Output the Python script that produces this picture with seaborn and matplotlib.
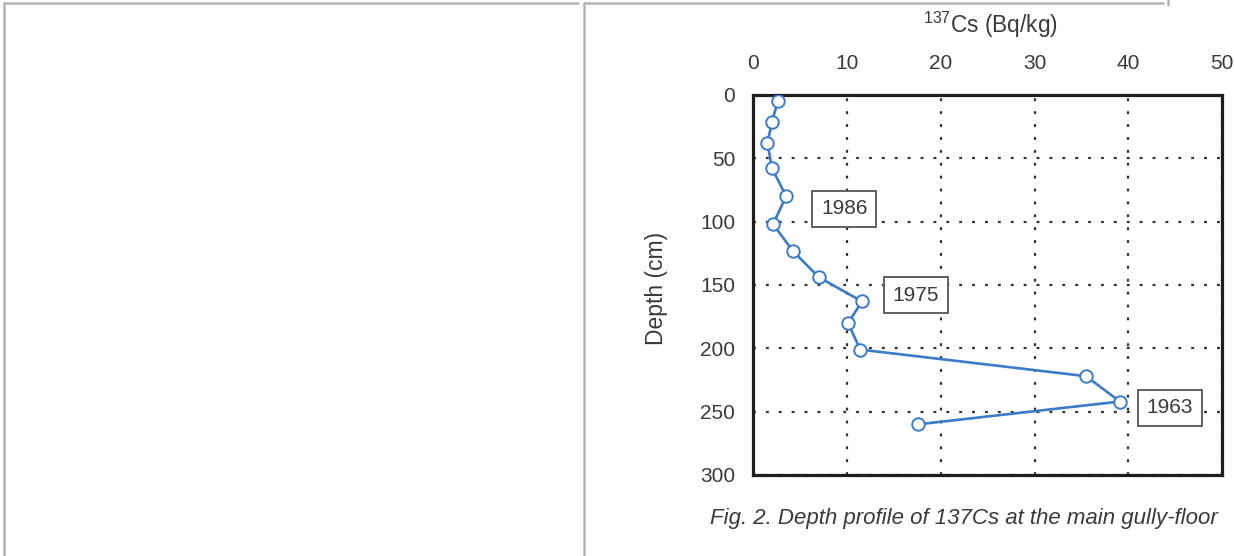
import numpy as np
import pandas as pd
import seaborn as sns
import matplotlib.pyplot as plt
from matplotlib.lines import Line2D

# 137Cs activity
cs_activity = [2.6, 2.0, 1.5, 2.0, 3.5, 2.1, 4.2, 7.0, 11.6, 10.1, 11.4, 35.5, 39.1, 17.6]
depth_cm = [5, 21, 38, 58, 80, 102, 123, 144, 163, 180, 201, 222, 242, 260]

# dating markers: (label, x, depth)
year_labels = ['1986', '1975', '1963']
year_x = [9.7, 17.3, 44.4]
year_depth = [90, 158, 247]

x_ticks = [0, 10, 20, 30, 40, 50]
y_ticks = [0, 50, 100, 150, 200, 250, 300]

sns.set_theme(style="white")
plt.rcParams['font.family'] = ['Liberation Sans', 'DejaVu Sans']

df = pd.DataFrame({'cs': cs_activity, 'depth': depth_cm})

fig = plt.figure(figsize=(12.34, 5.56), dpi=100)
ax = fig.add_axes([0.6105, 0.1457, 0.3798, 0.6835])

blue = '#3b7bc8'
txt = '#3a3a3a'

# estimator=None so repeated x values are not averaged together
sns.lineplot(data=df, x='cs', y='depth', sort=False, estimator=None, ax=ax,
             color=blue, linewidth=1.9, marker='o', markersize=9,
             markerfacecolor='white', markeredgecolor=blue, markeredgewidth=1.4,
             zorder=5)

ax.set_xlim(0, 50)
ax.set_ylim(300, 0)
ax.set_xticks(x_ticks)
ax.set_yticks(y_ticks)
ax.xaxis.tick_top()
ax.xaxis.set_label_position('top')
ax.tick_params(axis='x', length=0, pad=16, labelsize=15, labelcolor=txt)
ax.tick_params(axis='y', length=0, pad=13, labelsize=15, labelcolor=txt)

ax.grid(True, color='#333333', linestyle=(0, (1.3, 4.5)), linewidth=1.6)
for s in ax.spines.values():
    s.set_color('#1e1e1e')
    s.set_linewidth(2.3)

ax.set_xlabel(r'$\mathregular{^{137}}$Cs (Bq/kg)', fontsize=16.3, color=txt)
ax.xaxis.set_label_coords(0.505, 1.163)
ax.set_ylabel('Depth (cm)', fontsize=16.5, color=txt)
ax.yaxis.set_label_coords(-0.182, 0.492)

for lab, xx, dd in zip(year_labels, year_x, year_depth):
    ax.text(xx, dd, lab, fontsize=15, color=txt, ha='center', va='center', zorder=6,
            bbox=dict(boxstyle='square,pad=0.42', fc='white', ec='#555555', lw=1.3))

fig.text(0.7812, 0.0683, 'Fig. 2. Depth profile of 137Cs at the main gully-floor',
         fontsize=16, style='italic', color=txt, ha='center', va='center')

# scanned page frame lines
gray = '#b4b4b4'
fw, fh = 1234.0, 556.0
frame = [((4, 4), (3, 556)), ((4, 578), (3, 3)), ((584, 584), (3, 556)),
         ((584, 1163), (3, 3)), ((1168, 1168), (0, 5))]
for xs, ys in frame:
    fig.add_artist(Line2D([v / fw for v in xs], [1 - v / fh for v in ys],
                          color=gray, linewidth=1.8))

plt.savefig('out.png', dpi=100)
